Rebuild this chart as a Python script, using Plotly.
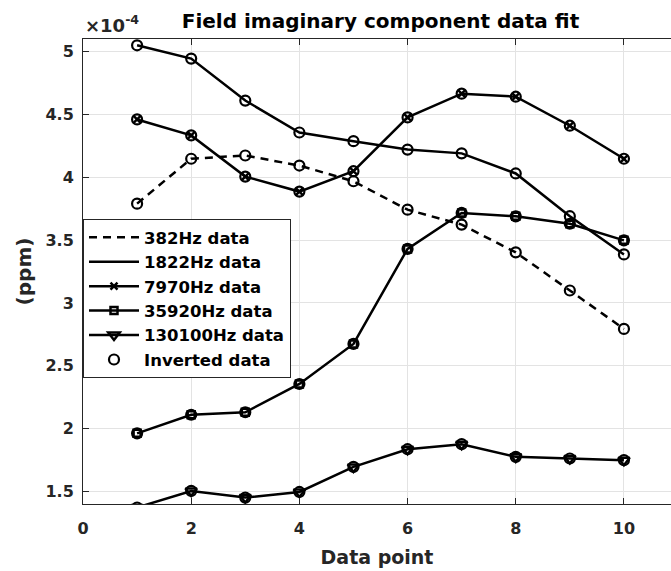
import plotly.graph_objects as go

# Frequency response, imaginary field component (ppm), one curve per frequency
points = [1, 2, 3, 4, 5, 6, 7, 8, 9, 10]

f382 = [3.79e-4, 4.147e-4, 4.173e-4, 4.093e-4, 3.968e-4, 3.742e-4, 3.623e-4, 3.402e-4, 3.099e-4, 2.793e-4]
f1822 = [5.05e-4, 4.944e-4, 4.61e-4, 4.356e-4, 4.287e-4, 4.22e-4, 4.19e-4, 4.03e-4, 3.69e-4, 3.386e-4]
f7970 = [4.46e-4, 4.333e-4, 4.005e-4, 3.886e-4, 4.048e-4, 4.476e-4, 4.665e-4, 4.641e-4, 4.41e-4, 4.147e-4]
f35920 = [1.962e-4, 2.11e-4, 2.13e-4, 2.355e-4, 2.674e-4, 3.43e-4, 3.716e-4, 3.689e-4, 3.63e-4, 3.498e-4]
f130100 = [1.372e-4, 1.504e-4, 1.451e-4, 1.496e-4, 1.695e-4, 1.836e-4, 1.876e-4, 1.775e-4, 1.762e-4, 1.749e-4]

labels = ["382Hz data", "1822Hz data", "7970Hz data", "35920Hz data", "130100Hz data"]
inverted_label = "Inverted data"

SCALE = 1e-4  # axis shows values in units of 10^-4
FONT = "DejaVu Sans"
INK = "#262626"

def scaled(vals):
    return [v / SCALE for v in vals]

series = [
    (labels[0], f382, "dash", None),
    (labels[1], f1822, "solid", None),
    (labels[2], f7970, "solid", dict(symbol="x-thin-open", size=7, line=dict(color="black", width=2.5))),
    (labels[3], f35920, "solid", dict(symbol="square-open", size=7, line=dict(color="black", width=2.5))),
    (labels[4], f130100, "solid", dict(symbol="triangle-down-open", size=10, line=dict(color="black", width=2.5))),
]

fig = go.Figure()
for name, vals, dash, marker in series:
    fig.add_trace(go.Scatter(
        x=points, y=scaled(vals), name=name,
        mode="lines+markers" if marker else "lines",
        line=dict(color="black", width=2.5, dash="8px,6px" if dash == "dash" else "solid"),
        marker=marker if marker else None,
    ))

# Inverted model response drawn as open circles on every curve
for i, (name, vals, _, _) in enumerate(series):
    fig.add_trace(go.Scatter(
        x=points, y=scaled(vals), name=inverted_label, mode="markers",
        marker=dict(symbol="circle-open", size=10, color="black", line=dict(color="black", width=2.2)),
        showlegend=(i == 0), legendgroup="inv",
    ))

axis_font = dict(family=FONT, size=16, color=INK, weight="bold")
label_font = dict(family=FONT, size=19, color=INK, weight="bold")

fig.update_layout(
    width=671, height=571,
    margin=dict(l=83, r=0, t=39, b=67),
    paper_bgcolor="white", plot_bgcolor="white",
    font=dict(family=FONT, color=INK),
    title=dict(text="Field imaginary component data fit", x=380.5 / 671, xref="container", xanchor="center",
               y=1 - 21 / 571, yref="container", yanchor="middle",
               font=dict(family=FONT, size=20, color="black", weight="bold")),
    xaxis=dict(range=[0, 10.87], tickvals=[0, 2, 4, 6, 8, 10], ticks="inside", ticklen=6, tickcolor=INK,
               showline=True, linecolor=INK, linewidth=1, mirror="ticks",
               showgrid=True, gridcolor="#e3e3e3", gridwidth=1, zeroline=False,
               tickfont=axis_font, ticklabelstandoff=10,
               title=dict(text="Data point", font=label_font, standoff=13)),
    yaxis=dict(range=[1.4, 5.1], tickvals=[1.5, 2, 2.5, 3, 3.5, 4, 4.5, 5], ticks="inside", ticklen=6, tickcolor=INK,
               showline=True, linecolor=INK, linewidth=1,
               showgrid=True, gridcolor="#e3e3e3", gridwidth=1, zeroline=False,
               tickfont=axis_font, ticklabelstandoff=5,
               title=dict(text="(ppm)", font=dict(family=FONT, size=20, color=INK, weight="bold"), standoff=8)),
    legend=dict(x=0, y=(504 - 219) / 465, xanchor="left", yanchor="top", tracegroupgap=0,
                bgcolor="white", bordercolor=INK, borderwidth=1, itemwidth=50,
                font=dict(family=FONT, size=16.5, color="black", weight="bold")),
    annotations=[dict(text="×10<sup>-4</sup>", xref="paper", yref="paper", x=0, y=1, xanchor="left",
                      yanchor="bottom", yshift=1, showarrow=False,
                      font=dict(family=FONT, size=18, color=INK, weight="bold"))],
)

fig.write_html("out.html")
